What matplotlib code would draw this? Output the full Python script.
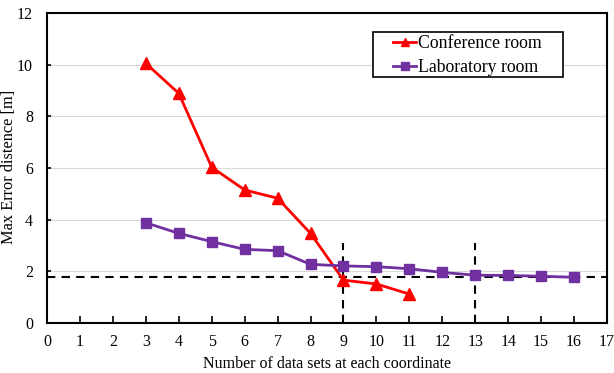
import matplotlib
matplotlib.use("Agg")
import matplotlib.pyplot as plt
from matplotlib.patches import Rectangle

conf_x = [3, 4, 5, 6, 7, 8, 9, 10, 11]
conf_y = [10.05, 8.89, 6.03, 5.15, 4.83, 3.47, 1.66, 1.51, 1.12]
lab_x = [3, 4, 5, 6, 7, 8, 9, 10, 11, 12, 13, 14, 15, 16]
lab_y = [3.88, 3.47, 3.15, 2.85, 2.80, 2.27, 2.21, 2.18, 2.10, 1.96, 1.85, 1.84, 1.81, 1.77]
ref_level = 1.79
vlines_x = [9, 13]
vline_top = 3.1

plt.rcParams['font.family'] = ['Liberation Serif', 'DejaVu Serif']

W, H = 614, 373
fig = plt.figure(figsize=(6.14, 3.73), dpi=100)
ax = fig.add_axes([47/W, 50/H, 560/W, 310/H])

ax.set_xlim(0, 17)
ax.set_ylim(0, 12)
ax.set_xticks(range(0, 18))
ax.set_yticks(range(0, 13, 2))
ax.yaxis.grid(True, color='#d9d9d9', linewidth=0.8)
ax.set_axisbelow(True)

ax.axhline(ref_level, color='black', linestyle=(0, (4, 3)), linewidth=1.5, zorder=2)
for vx in vlines_x:
    ax.plot([vx, vx], [0, vline_top], color='black', linestyle=(0, (4, 3)), linewidth=1.5, zorder=2)

ax.plot(conf_x, conf_y, color='#ff0000', marker='^', markersize=8, linewidth=2, label='Conference room', zorder=3)
ax.plot(lab_x, lab_y, color='#7030a0', marker='s', markersize=7.5, linewidth=2, label='Laboratory room', zorder=3)

for s in ax.spines.values():
    s.set_linewidth(1.5)
    s.set_color('black')
ax.tick_params(axis='x', direction='in', length=5, width=1.2, labelsize=11.5, pad=8)
ax.tick_params(axis='y', direction='in', length=3, width=1.2, labelsize=11.5, pad=10)

ax.set_xlabel('Number of data sets at each coordinate', fontsize=11.5, labelpad=4)
ax.set_ylabel('Max Error distence [m]', fontsize=11.8)
ax.yaxis.set_label_coords((17 - 47) / 560, 0.505)

# legend box frame (figure pixel coordinates)
ax.add_patch(Rectangle((373/W, 1 - 77/H), (563-373)/W, (77-32)/H, transform=fig.transFigure,
                       facecolor='white', edgecolor='black', linewidth=1.2, zorder=5, clip_on=False))
leg = ax.legend(loc='upper left', bbox_to_anchor=(393/W, 1 - 35/H), bbox_transform=fig.transFigure,
                fontsize=12.8, frameon=False, handlelength=1.3, handletextpad=0.1,
                borderpad=0, labelspacing=0.42, borderaxespad=0, markerscale=0.7)
leg.set_zorder(6)

fig.savefig('out.png', dpi=100)
